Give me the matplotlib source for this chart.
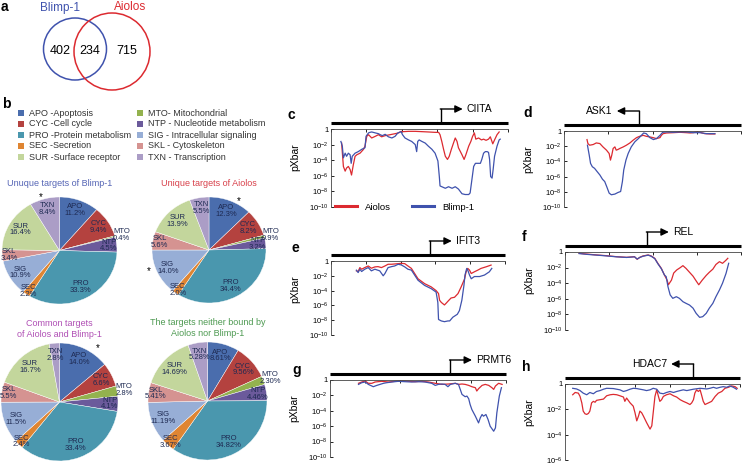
import numpy as np
import matplotlib
matplotlib.use("Agg")
import matplotlib.pyplot as plt
from matplotlib.patches import Ellipse

plt.rcParams['font.family'] = ['Liberation Sans', 'DejaVu Sans']
plt.rcParams['mathtext.fontset'] = 'custom'
plt.rcParams['mathtext.rm'] = 'Liberation Sans'
plt.rcParams['mathtext.it'] = 'Liberation Sans:italic'
plt.rcParams['mathtext.bf'] = 'Liberation Sans:bold'

W, H = 743, 467

# ---------------- data ----------------
venn_names = ["Blimp-1", "Aiolos"]
venn_counts = [402, 234, 715]  # Blimp-1 only, both, Aiolos only

categories = ["APO", "CYC", "MTO", "NTP", "PRO", "SEC", "SIG", "SKL", "SUR", "TXN"]
category_desc = ["APO -Apoptosis", "CYC -Cell cycle", "MTO- Mitochondrial", "NTP - Nucleotide metabolism",
                 "PRO -Protein metabolism", "SEC -Secretion", "SIG - Intracellular signaling",
                 "SKL - Cytoskeleton", "SUR -Surface receptor", "TXN - Transcription"]
legend_order = ["APO", "CYC", "PRO", "SEC", "SUR", "MTO", "NTP", "SIG", "SKL", "TXN"]

pie_blimp = [11.2, 9.4, 0.4, 4.5, 33.3, 2.2, 10.9, 3.4, 16.4, 8.4]
pie_aiolos = [12.3, 8.2, 0.9, 3.2, 34.4, 2.0, 14.0, 5.6, 13.9, 5.5]
pie_common = [14.0, 6.6, 2.8, 4.1, 33.4, 2.4, 11.5, 5.5, 16.7, 2.8]
pie_neither = [8.61, 9.56, 2.30, 4.46, 34.82, 3.67, 11.19, 5.41, 14.69, 5.28]

# log10(pXbar) along the promoter region
ciita_x_aiolos = [0.30, 0.35, 0.40, 0.44, 0.49, 0.54, 0.58, 0.63, 0.68, 0.73, 0.82, 0.92, 0.96, 1.01, 1.06,
                  1.15, 1.25, 1.34, 1.43, 1.53, 1.67, 1.81, 1.91, 1.98, 2.05, 2.19, 2.38, 2.57, 2.75, 2.94,
                  3.04, 3.08, 3.13, 3.18, 3.23, 3.29, 3.34, 3.40, 3.46, 3.51, 3.56, 3.60, 3.70, 3.76, 3.81,
                  3.89, 3.95, 4.00, 4.05, 4.09, 4.17, 4.25, 4.31, 4.38, 4.45, 4.50, 4.57, 4.62, 4.69, 4.75]
ciita_y_aiolos = [-1.8, -4.8, -5.4, -5.0, -4.8, -5.2, -5.9, -4.6, -3.5, -3.3, -3.1, -2.6, -2.2, -0.94, -0.73,
                  -1.15, -0.94, -0.73, -1.0, -0.85, -0.73, -0.6, -0.5, -0.3, -0.34, -0.3, -0.3, -0.34, -0.38, -0.43,
                  -0.43, -0.73, -1.6, -2.6, -3.5, -3.9, -3.5, -2.6, -1.8, -1.15, -1.6, -2.4, -3.3, -3.9, -3.3,
                  -2.2, -1.6, -0.94, -0.5, -1.3, -1.15, -1.4, -1.3, -1.45, -1.3, -1.0, -1.9, -1.4, -0.73, -0.38]
ciita_x_blimp = [0.28, 0.32, 0.35, 0.40, 0.44, 0.49, 0.54, 0.57, 0.60, 0.68, 0.77, 0.87, 0.96, 0.99, 1.06,
                 1.10, 1.15, 1.25, 1.34, 1.39, 1.45, 1.53, 1.62, 1.72, 1.81, 1.89, 1.98, 2.02, 2.09, 2.19,
                 2.28, 2.38, 2.42, 2.45, 2.49, 2.57, 2.66, 2.75, 2.85, 2.94, 3.02, 3.06, 3.08, 3.13, 3.23,
                 3.32, 3.42, 3.51, 3.60, 3.70, 3.79, 3.89, 3.93, 3.98, 4.03, 4.08, 4.17, 4.22, 4.26, 4.31,
                 4.36, 4.41, 4.45, 4.48, 4.51, 4.55, 4.58, 4.62, 4.69, 4.75, 4.78]
ciita_y_blimp = [-1.6, -2.2, -3.7, -3.1, -3.5, -3.1, -3.3, -4.4, -3.5, -3.1, -2.9, -2.6, -2.4, -0.94, -0.5,
                 -0.43, -0.38, -0.5, -0.6, -0.73, -0.85, -0.68, -1.0, -1.15, -0.94, -0.5, -0.34, -0.73, -1.15, -1.4,
                 -1.6, -2.0, -2.9, -1.6, -1.4, -1.6, -1.8, -2.2, -2.6, -3.1, -4.1, -6.1, -7.3, -7.4, -7.6,
                 -7.4, -7.6, -7.4, -7.7, -8.3, -8.4, -8.4, -8.2, -6.5, -4.8, -4.4, -4.4, -4.4, -3.9, -3.1,
                 -2.9, -2.9, -3.0, -3.9, -6.1, -6.3, -5.2, -3.5, -2.2, -1.4, -1.3]

ask1_x_aiolos = [0.52, 0.54, 0.58, 0.66, 0.73, 0.81, 0.88, 0.96, 1.02, 1.05, 1.08, 1.11, 1.15, 1.18, 1.22,
                 1.26, 1.34, 1.41, 1.49, 1.56, 1.64, 1.71, 1.79, 1.86, 1.94, 2.01, 2.09, 2.17, 2.20, 2.24,
                 2.32, 2.47, 2.62, 2.77, 2.85, 2.92, 3.00, 3.07, 3.18, 3.30, 3.41]
ask1_y_aiolos = [-1.13, -1.65, -1.87, -1.78, -1.57, -1.65, -2.09, -2.52, -2.96, -3.83, -3.17, -2.3, -2.09, -2.52, -2.43,
                 -2.3, -2.09, -1.87, -1.57, -1.22, -0.87, -0.7, -0.57, -0.7, -0.78, -0.87, -1.0, -0.87, -0.57, -0.35,
                 -0.26, -0.22, -0.17, -0.22, -0.26, -0.22, -0.13, -0.17, -0.35, -0.39, -0.39]
ask1_x_blimp = [0.53, 0.57, 0.60, 0.64, 0.69, 0.75, 0.81, 0.87, 0.92, 0.97, 1.02, 1.07, 1.15, 1.22, 1.28,
                1.32, 1.35, 1.40, 1.45, 1.52, 1.60, 1.68, 1.75, 1.80, 1.86, 1.94, 2.02, 2.09, 2.17, 2.23,
                2.32, 2.47, 2.62, 2.77, 2.92, 3.07, 3.22, 3.41]
ask1_y_blimp = [-1.87, -3.17, -4.26, -4.7, -4.91, -5.35, -5.78, -6.35, -6.65, -7.39, -8.17, -8.39, -8.3, -8.09, -7.96,
                -6.65, -5.13, -3.83, -2.96, -2.09, -1.43, -1.0, -0.57, -0.26, -0.35, -0.87, -1.13, -1.0, -0.57, -0.17,
                -0.13, -0.17, -0.13, -0.13, -0.22, -0.22, -0.35, -0.35]

ifit3_x_aiolos = [0.73, 0.78, 0.83, 0.88, 0.97, 1.07, 1.16, 1.26, 1.35, 1.45, 1.55, 1.64, 1.74, 1.93, 2.02,
                  2.12, 2.21, 2.31, 2.50, 2.69, 2.88, 3.02, 3.09, 3.12, 3.17, 3.26, 3.31, 3.38, 3.45, 3.55,
                  3.65, 3.74, 3.84, 3.88, 3.93, 3.98, 4.03, 4.12, 4.22, 4.31, 4.46, 4.60]
ifit3_y_aiolos = [-1.33, -1.42, -0.89, -1.11, -0.89, -0.67, -0.98, -0.8, -0.76, -0.89, -0.67, -0.44, -0.44, -0.36, -0.31,
                  -0.36, -0.67, -1.0, -2.4, -3.06, -3.5, -4.0, -4.4, -5.3, -5.6, -5.94, -5.7, -5.34, -5.0, -4.9,
                  -4.4, -3.5, -2.4, -1.5, -1.0, -1.23, -1.69, -1.46, -1.23, -1.0, -0.78, -0.55]
ifit3_x_blimp = [0.73, 0.78, 0.83, 0.88, 0.97, 1.07, 1.16, 1.26, 1.40, 1.50, 1.55, 1.64, 1.74, 1.83, 1.93,
                 2.02, 2.12, 2.21, 2.31, 2.50, 2.69, 2.88, 3.02, 3.07, 3.09, 3.17, 3.26, 3.36, 3.41, 3.50,
                 3.63, 3.69, 3.76, 3.82, 3.85, 3.90, 3.93, 3.98, 4.03, 4.12, 4.27, 4.41, 4.55, 4.62]
ifit3_y_blimp = [-1.24, -1.56, -1.11, -1.42, -1.11, -0.89, -1.33, -1.11, -1.33, -2.0, -1.69, -0.89, -0.76, -0.67, -0.44,
                 -0.53, -0.8, -1.11, -1.23, -2.6, -3.3, -3.74, -4.2, -5.6, -7.9, -8.1, -8.2, -8.1, -8.1, -7.6,
                 -7.2, -6.7, -5.3, -3.3, -1.9, -1.0, -1.23, -1.9, -2.4, -2.1, -2.1, -1.9, -1.46, -1.0]

rel_x_aiolos = [0.32, 0.49, 0.72, 0.94, 1.17, 1.40, 1.58, 1.64, 1.70, 1.77, 1.89, 1.96, 2.04, 2.11, 2.19, 2.26,
                2.32, 2.35, 2.42, 2.47, 2.54, 2.62, 2.68, 2.75, 2.83, 2.91, 2.98, 3.04, 3.12, 3.21, 3.28,
                3.36, 3.43, 3.51, 3.58, 3.65, 3.70]
rel_y_aiolos = [-0.17, -0.26, -0.38, -0.47, -0.6, -0.68, -0.6, -0.94, -0.68, -0.51, -0.38, -0.51, -0.81, -1.45, -2.1, -2.95,
                -3.6, -4.2, -3.6, -2.7, -2.3, -2.0, -1.75, -2.1, -2.6, -3.1, -3.7, -4.2, -3.6, -3.0, -2.6,
                -2.2, -1.6, -1.24, -1.45, -1.1, -0.81]
rel_x_blimp = [0.32, 0.49, 0.72, 0.94, 1.17, 1.40, 1.58, 1.64, 1.70, 1.77, 1.89, 1.96, 2.04, 2.11, 2.19, 2.26,
               2.30, 2.34, 2.39, 2.45, 2.53, 2.60, 2.68, 2.75, 2.83, 2.91, 2.98, 3.06, 3.13, 3.21, 3.28,
               3.36, 3.43, 3.51, 3.58, 3.66, 3.72]
rel_y_blimp = [-0.2, -0.3, -0.4, -0.5, -0.62, -0.7, -0.62, -0.9, -0.7, -0.55, -0.4, -0.55, -0.85, -1.5, -2.15, -2.95,
               -3.16, -4.44, -5.5, -5.94, -5.73, -5.94, -6.37, -6.58, -6.8, -7.2, -7.86, -8.38, -8.29, -7.86, -7.2,
               -6.58, -5.73, -4.87, -4.0, -2.74, -1.45]

prmt6_x_aiolos = [0.81, 0.90, 1.00, 1.09, 1.19, 1.28, 1.47, 1.66, 1.85, 2.04, 2.23, 2.42, 2.61, 2.80, 2.99,
                  3.18, 3.37, 3.56, 3.65, 3.75, 3.84, 3.94, 4.03, 4.13, 4.17, 4.22, 4.32, 4.41, 4.51, 4.60,
                  4.65, 4.70, 4.79, 4.89]
prmt6_y_aiolos = [-0.43, -0.26, -0.13, -0.43, -0.43, -0.26, -0.17, -0.26, -0.17, -0.13, -0.17, -0.22, -0.17, -0.26, -0.43,
                  -0.57, -0.52, -0.43, -0.57, -0.52, -0.57, -0.7, -0.87, -1.0, -1.43, -1.13, -0.7, -0.57, -0.7, -1.0,
                  -1.22, -0.78, -0.43, -0.57]
prmt6_x_blimp = [0.81, 0.90, 1.00, 1.09, 1.23, 1.33, 1.42, 1.52, 1.61, 1.76, 1.94, 2.13, 2.32, 2.51, 2.70,
                 2.80, 2.89, 2.99, 3.08, 3.18, 3.27, 3.35, 3.42, 3.56, 3.65, 3.70, 3.75, 3.84, 3.89, 3.94,
                 3.98, 4.03, 4.13, 4.22, 4.27, 4.32, 4.36, 4.43, 4.49, 4.55, 4.65, 4.70, 4.74, 4.81, 4.87]
prmt6_y_blimp = [-0.57, -0.35, -0.26, -0.57, -0.87, -0.7, -0.57, -0.43, -0.35, -0.26, -0.17, -0.22, -0.26, -0.22, -0.26,
                 -0.35, -0.43, -0.7, -0.57, -0.52, -0.57, -0.87, -0.57, -0.43, -0.57, -1.22, -1.87, -2.17, -2.09, -2.43,
                 -3.17, -3.83, -4.7, -5.57, -4.91, -4.48, -4.7, -4.48, -5.13, -6.0, -6.65, -6.22, -4.26, -2.09, -1.0]

hdac7_x_aiolos = [0.22, 0.29, 0.38, 0.43, 0.48, 0.52, 0.57, 0.62, 0.67, 0.71, 0.76, 0.81, 0.86, 0.90, 1.00,
                  1.10, 1.19, 1.29, 1.38, 1.48, 1.57, 1.67, 1.71, 1.76, 1.86, 1.95, 2.00, 2.05, 2.10, 2.14,
                  2.19, 2.24, 2.33, 2.43, 2.48, 2.52, 2.57, 2.62, 2.67, 2.71, 2.76, 2.81, 2.90, 3.00, 3.10,
                  3.19, 3.29, 3.38, 3.48, 3.57, 3.62, 3.67, 3.71, 3.76, 3.81, 3.86, 3.90, 3.95, 4.00, 4.10,
                  4.19, 4.29, 4.38, 4.48, 4.57, 4.67, 4.76, 4.86, 4.92]
hdac7_y_aiolos = [-0.85, -0.67, -0.72, -0.98, -1.49, -2.14, -2.35, -2.4, -2.32, -2.14, -1.49, -1.37, -1.44, -1.29, -1.24,
                  -1.19, -0.93, -0.85, -0.82, -0.85, -0.93, -1.03, -1.37, -1.11, -1.49, -1.75, -2.27, -2.91, -2.53, -2.14,
                  -2.27, -2.53, -3.04, -3.56, -3.3, -2.27, -0.98, -0.46, -0.98, -1.37, -1.24, -0.98, -0.85, -0.77, -0.93,
                  -1.03, -1.24, -1.37, -1.49, -1.62, -1.49, -1.24, -0.72, -0.46, -0.59, -0.46, -0.85, -1.37, -1.62, -1.49,
                  -1.37, -0.98, -0.72, -0.59, -0.34, -0.26, -0.15, -0.21, -0.34]
hdac7_x_blimp = [0.22, 0.33, 0.43, 0.52, 0.62, 0.71, 0.81, 0.90, 1.00, 1.10, 1.19, 1.38, 1.57, 1.67, 1.76,
                 1.86, 1.95, 2.05, 2.14, 2.24, 2.33, 2.43, 2.52, 2.62, 2.71, 2.81, 2.90, 3.00, 3.10, 3.19,
                 3.29, 3.38, 3.48, 3.67, 3.86, 4.05, 4.14, 4.24, 4.33, 4.43, 4.52, 4.62, 4.71, 4.81, 4.90]
hdac7_y_blimp = [-0.34, -0.39, -0.52, -0.72, -0.85, -0.67, -0.77, -0.59, -0.52, -0.41, -0.34, -0.36, -0.46, -0.59, -0.52,
                 -0.41, -0.34, -0.36, -0.41, -0.46, -0.52, -0.46, -0.34, -0.41, -0.72, -0.77, -0.67, -0.59, -0.67, -0.59,
                 -0.52, -0.46, -0.52, -0.41, -0.34, -0.39, -0.34, -0.26, -0.34, -0.26, -0.21, -0.26, -0.15, -0.26, -0.41]

# ---------------- style ----------------
pie_colors = {"APO": "#4a6dad", "CYC": "#b4423f", "MTO": "#93b24e", "NTP": "#6b5a9b", "PRO": "#4a97ae",
              "SEC": "#df8532", "SIG": "#97aed6", "SKL": "#d59391", "SUR": "#c3d69c", "TXN": "#ab9dc6"}
label_dist = [0.8, 0.8, 1.12, 0.86, 0.78, 0.93, 0.8, 0.88, 0.78, 0.8]
RED = "#dc2a30"
BLUE = "#3f52ad"

fig = plt.figure(figsize=(W / 100, H / 100), dpi=100)


def px_axes(left, top, width, height):
    return fig.add_axes([left / W, 1 - (top + height) / H, width / W, height / H])


ov = fig.add_axes([0, 0, 1, 1])
ov.set_xlim(0, W)
ov.set_ylim(H, 0)
ov.axis("off")

# panel letters
for letter, x, y in [("a", 1, 7), ("b", 2, 104), ("c", 288, 115), ("d", 523, 113),
                     ("e", 292, 248), ("f", 522, 237), ("g", 292, 370), ("h", 522, 367)]:
    ov.text(x, y, letter, fontsize=10, fontweight="bold", ha="left", va="center")

# ---------------- a: venn ----------------
ov.add_patch(Ellipse((75, 49), 63, 62, fill=False, ec=BLUE, lw=1.1))
ov.add_patch(Ellipse((112, 51.5), 76, 77, fill=False, ec=RED, lw=1.1))
ov.text(60, 8, venn_names[0], color=BLUE, fontsize=8.5, ha="center", va="center")
ov.text(130, 7, venn_names[1], color=RED, fontsize=8.5, ha="center", va="center")
for val, x in zip(venn_counts, [60, 90, 127]):
    ov.text(x, 51, str(val), fontsize=9, ha="center", va="center")

# ---------------- b: legend + pies ----------------
for i, cat in enumerate(legend_order):
    col, row = divmod(i, 5)
    x0 = [21, 140][col]
    y0 = 113 + row * 11
    ov.scatter([x0], [y0], marker="s", s=13, color=pie_colors[cat], linewidths=0)
    ov.text(x0 + 8, y0, category_desc[categories.index(cat)], fontsize=6.5, color="#333333",
            ha="left", va="center")


def draw_pie(box, values, decimals, title, title_color, stars):
    ax = px_axes(*box)
    wedges, _ = ax.pie(values, colors=[pie_colors[c] for c in categories], startangle=90,
                       counterclock=False, wedgeprops=dict(edgecolor="white", linewidth=0.3))
    ax.set_aspect("auto")
    ax.set_xlim(-1, 1)
    ax.set_ylim(-1, 1)
    for w, cat, v, d in zip(wedges, categories, values, label_dist):
        ang = np.deg2rad((w.theta1 + w.theta2) / 2)
        ax.text(d * np.cos(ang), d * np.sin(ang), f"{cat}\n{v:.{decimals}f}%", ha="center",
                va="center", fontsize=5.5, color="#1e2a52", linespacing=0.95, clip_on=False)
    ax.text(0.5, 1 + 14 / box[3], title, transform=ax.transAxes, ha="center", va="center",
            fontsize=6.5, color=title_color, linespacing=1.15)
    for sx, sy in stars:
        ax.text(sx, sy, "*", fontsize=7, ha="center", va="center", clip_on=False)


draw_pie((2, 197, 115, 107), pie_blimp, 1, "Unuque targets of Blimp-1", "#5565b5", [(-0.32, 1.0)])
draw_pie((152, 197, 114, 106), pie_aiolos, 1, "Unique targets of Aiolos", "#d8404a",
         [(0.53, 0.93), (-1.06, -0.4)])
draw_pie((1, 343, 117, 118), pie_common, 1, "Common targets\nof Aiolos and Blimp-1", "#b04fb5",
         [(0.65, 0.92)])
draw_pie((148, 342, 119, 118), pie_neither, 2, "The targets neither bound by\nAiolos nor Blimp-1", "#4e9a52", [])

# ---------------- c-h: pXbar profiles ----------------
panels = [
    ("CIITA", 1, 5, -10, (331, 129, 177, 78), 3.1, ciita_x_aiolos, ciita_y_aiolos, ciita_x_blimp, ciita_y_blimp),
    ("ASK1", -1, 4, -10, (564, 131, 177, 76), 1.69, ask1_x_aiolos, ask1_y_aiolos, ask1_x_blimp, ask1_y_blimp),
    ("IFIT3", 1, 5, -10, (331, 261, 174, 74), 2.84, ifit3_x_aiolos, ifit3_y_aiolos, ifit3_x_blimp, ifit3_y_blimp),
    ("REL", 1, 4, -10, (565, 252, 176, 78), 1.86, rel_x_aiolos, rel_y_aiolos, rel_x_blimp, rel_y_blimp),
    ("PRMT6", 1, 5, -10, (330, 380, 176, 77), 3.41, prmt6_x_aiolos, prmt6_y_aiolos, prmt6_x_blimp, prmt6_y_blimp),
    ("HDAC7", -1, 5, -6, (565, 384, 175, 76), 3.66, hdac7_x_aiolos, hdac7_y_aiolos, hdac7_x_blimp, hdac7_y_blimp),
]

for gene, direction, xmax, ymin, box, gene_pos, xa, ya, xb, yb in panels:
    ax = px_axes(*box)
    ax.plot(xa, 10.0 ** np.array(ya), color=RED, lw=0.9, label="Aiolos")
    ax.plot(xb, 10.0 ** np.array(yb), color=BLUE, lw=0.9, label="Blimp-1")
    ax.set_yscale("log")
    ax.set_xlim(0, xmax)
    ax.set_ylim(10.0 ** ymin, 1)
    ax.set_facecolor("none")
    for s in ["right", "bottom"]:
        ax.spines[s].set_visible(False)
    for s in ["left", "top"]:
        ax.spines[s].set_linewidth(0.6)
        ax.spines[s].set_color("#444444")
    ax.xaxis.tick_top()
    ax.set_xticks(range(xmax + 1))
    ax.tick_params(axis="x", direction="in", length=2, width=0.6, labeltop=False, labelbottom=False)
    exps = list(range(0, ymin - 1, -2))
    ax.set_yticks([10.0 ** e for e in exps])
    ax.set_yticklabels(["1" if e == 0 else f"$10^{{{e}}}$" for e in exps])
    ax.yaxis.set_minor_locator(matplotlib.ticker.NullLocator())
    ax.tick_params(axis="y", direction="in", length=2, width=0.6, labelsize=5.5, pad=2)
    ax.set_ylabel("pXbar", fontsize=7.5)
    ax.yaxis.set_label_coords(-31 / box[2], 1 - 28 / box[3])

    left, top, width, height = box
    bar_y = top - 6
    ov.plot([left, left + width], [bar_y, bar_y], color="black", lw=2.2, solid_capstyle="butt")
    gx = left + gene_pos / xmax * width
    rise = 14
    ov.plot([gx, gx], [bar_y, bar_y - rise], color="black", lw=1.0)
    tip = gx + direction * 22
    ov.annotate("", xy=(tip, bar_y - rise), xytext=(gx - direction * 0.5, bar_y - rise),
                arrowprops=dict(arrowstyle="-|>,head_length=0.45,head_width=0.22", lw=1.0,
                                color="black", shrinkA=0, shrinkB=0))
    ov.text(tip + direction * 4, bar_y - rise, gene, fontsize=7.5,
            ha="left" if direction > 0 else "right", va="center")

    if gene == "CIITA":
        leg = ax.legend(loc="center left", bbox_to_anchor=(0.0, 0.0), ncol=2, frameon=False,
                        fontsize=6.8, handlelength=2.4, handletextpad=0.8, columnspacing=2.2,
                        borderaxespad=0.0)
        for line in leg.get_lines():
            line.set_linewidth(2.2)

fig.savefig("out.png", dpi=100)
